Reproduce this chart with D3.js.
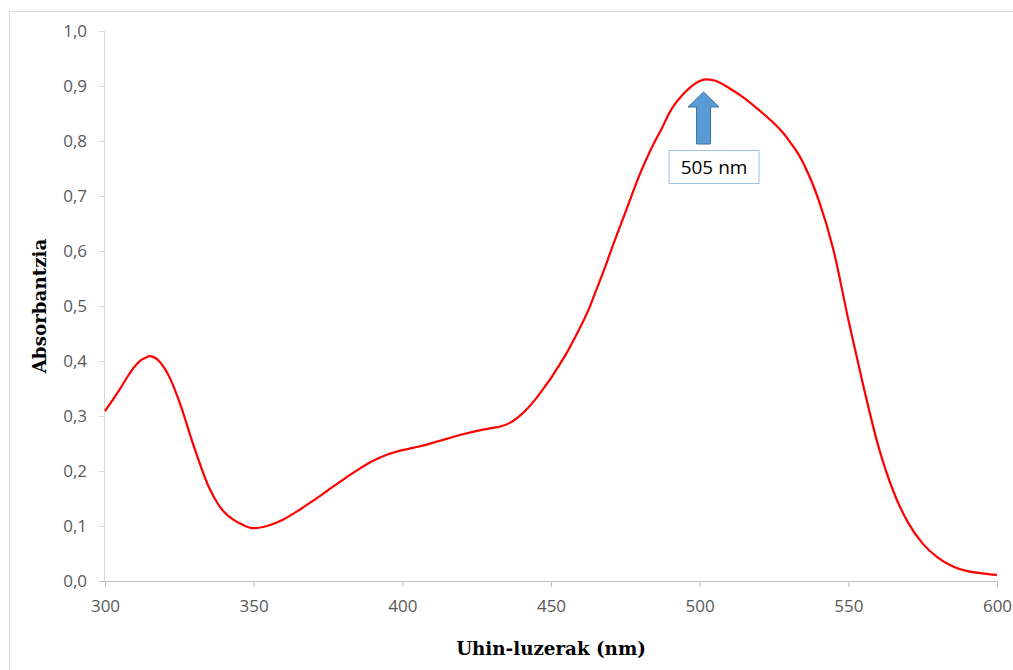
<!DOCTYPE html>
<html>
<head>
<meta charset="utf-8">
<script src="https://cdn.jsdelivr.net/npm/d3@7"></script>
<style>
  html, body { margin: 0; padding: 0; background: #ffffff; }
  svg { display: block; }
</style>
</head>
<body>
<svg id="chart" width="1013" height="670"></svg>
<script>
// Absorption spectrum (wavelength in nm, absorbance)
const wavelengths = [300, 305, 308, 310, 312, 314, 315, 316, 318, 320, 322, 325, 330, 335, 338, 340, 343, 346, 350, 355, 360, 365, 370, 375, 380, 385, 390, 395, 400, 406, 412, 419, 426, 430, 433, 436, 439, 442, 445, 448, 450, 452, 455, 458, 460, 463, 465, 468, 470, 475, 480, 485, 487, 490, 495, 500, 502, 505, 510, 515, 520, 525, 528, 530, 533, 535, 540, 545, 550, 555, 560, 565, 570, 575, 580, 585, 590, 595, 600];
const absorbance  = [0.309, 0.349, 0.375, 0.390, 0.401, 0.407, 0.409, 0.408, 0.401, 0.387, 0.367, 0.326, 0.243, 0.170, 0.140, 0.126, 0.112, 0.103, 0.096, 0.101, 0.112, 0.128, 0.146, 0.165, 0.184, 0.202, 0.218, 0.230, 0.238, 0.245, 0.254, 0.265, 0.274, 0.278, 0.281, 0.287, 0.298, 0.313, 0.332, 0.354, 0.369, 0.386, 0.412, 0.442, 0.463, 0.498, 0.526, 0.568, 0.598, 0.670, 0.741, 0.800, 0.820, 0.853, 0.888, 0.909, 0.912, 0.910, 0.896, 0.878, 0.856, 0.832, 0.815, 0.801, 0.778, 0.758, 0.693, 0.602, 0.475, 0.356, 0.247, 0.165, 0.107, 0.068, 0.043, 0.027, 0.018, 0.014, 0.011];

const xTicks = [300, 350, 400, 450, 500, 550, 600];
const yTicks = [0, 0.1, 0.2, 0.3, 0.4, 0.5, 0.6, 0.7, 0.8, 0.9, 1.0];

const xTitle = "Uhin-luzerak (nm)";
const yTitle = "Absorbantzia";

// Peak annotation: arrow position (nm) and label
const peakArrowAt = [501.3];
const peakLabel = ["505 nm"];

const svg = d3.select("#chart");

// Outer chart frame
svg.append("rect")
  .attr("x", 9.5).attr("y", 11.5)
  .attr("width", 1010).attr("height", 680)
  .attr("fill", "#ffffff")
  .attr("stroke", "#d9d9d9")
  .attr("stroke-width", 1);

const plot = { left: 105, right: 997, top: 31, bottom: 581 };

const x = d3.scaleLinear().domain([300, 600]).range([plot.left, plot.right]);
const y = d3.scaleLinear().domain([0, 1]).range([plot.bottom, plot.top]);

const fmt = d => d3.format(".1f")(d).replace(".", ",");

// Y axis
const yAxis = svg.append("g")
  .attr("transform", `translate(${plot.left},0)`)
  .call(d3.axisLeft(y).tickValues(yTicks).tickFormat(fmt).tickSize(6).tickPadding(12));
yAxis.select(".domain").attr("stroke", "#d9d9d9").attr("d", `M-0.5,${plot.top}V${plot.bottom}`);
yAxis.selectAll(".tick line").attr("stroke", "#d9d9d9");
yAxis.selectAll(".tick text")
  .attr("fill", "#595959")
  .style("font-family", "'Open Sans', sans-serif")
  .style("font-size", "17px");

// X axis
const xAxis = svg.append("g")
  .attr("transform", `translate(0,${plot.bottom})`)
  .call(d3.axisBottom(x).tickValues(xTicks).tickFormat(d3.format("d")).tickSize(6).tickPadding(13));
xAxis.select(".domain").attr("stroke", "#bfbfbf").attr("d", `M${plot.left - 6},0.5H${plot.right}`);
xAxis.selectAll(".tick line").attr("stroke", "#bfbfbf");
xAxis.selectAll(".tick text")
  .attr("fill", "#595959")
  .style("font-family", "'Open Sans', sans-serif")
  .style("font-size", "17px");

// Axis titles
svg.append("text")
  .attr("x", 551).attr("y", 655)
  .attr("text-anchor", "middle")
  .style("font-family", "'DejaVu Serif', serif")
  .style("font-weight", "bold")
  .style("font-size", "18.3px")
  .attr("fill", "#000000")
  .text(xTitle);

svg.append("text")
  .attr("transform", `translate(46,306) rotate(-90)`)
  .attr("text-anchor", "middle")
  .style("font-family", "'DejaVu Serif', serif")
  .style("font-weight", "bold")
  .style("font-size", "18.3px")
  .attr("fill", "#000000")
  .text(yTitle);

// Spectrum line
const series = wavelengths.map((w, i) => ({ w, a: absorbance[i] }));
const line = d3.line()
  .x(d => x(d.w))
  .y(d => y(d.a))
  .curve(d3.curveMonotoneX);

svg.append("path")
  .datum(series)
  .attr("d", line)
  .attr("fill", "none")
  .attr("stroke", "#ff0000")
  .attr("stroke-width", 2.2)
  .attr("stroke-linejoin", "round");

// Peak arrow (block arrow pointing up)
const ax = x(peakArrowAt[0]);
const tipY = 92, headBase = 107, shaftBottom = 144;
const headHalf = 15.5, shaftHalf = 7;
const arrowPts = [
  [ax, tipY], [ax + headHalf, headBase], [ax + shaftHalf, headBase],
  [ax + shaftHalf, shaftBottom], [ax - shaftHalf, shaftBottom],
  [ax - shaftHalf, headBase], [ax - headHalf, headBase]
];
svg.append("path")
  .attr("d", d3.line()(arrowPts) + "Z")
  .attr("fill", "#5b9bd5")
  .attr("stroke", "#41719c")
  .attr("stroke-width", 1);

// Peak label box
const boxW = 90, boxH = 33, boxY = 150;
const boxX = ax - 35;
svg.append("rect")
  .attr("x", boxX + 0.5).attr("y", boxY + 0.5)
  .attr("width", boxW).attr("height", boxH)
  .attr("fill", "#ffffff")
  .attr("stroke", "#9dc3e6")
  .attr("stroke-width", 1);
svg.append("text")
  .attr("x", boxX + boxW / 2 + 0.5).attr("y", boxY + 24)
  .attr("text-anchor", "middle")
  .style("font-family", "'Open Sans', sans-serif")
  .style("font-size", "19px")
  .attr("fill", "#000000")
  .text(peakLabel[0]);
</script>
</body>
</html>
